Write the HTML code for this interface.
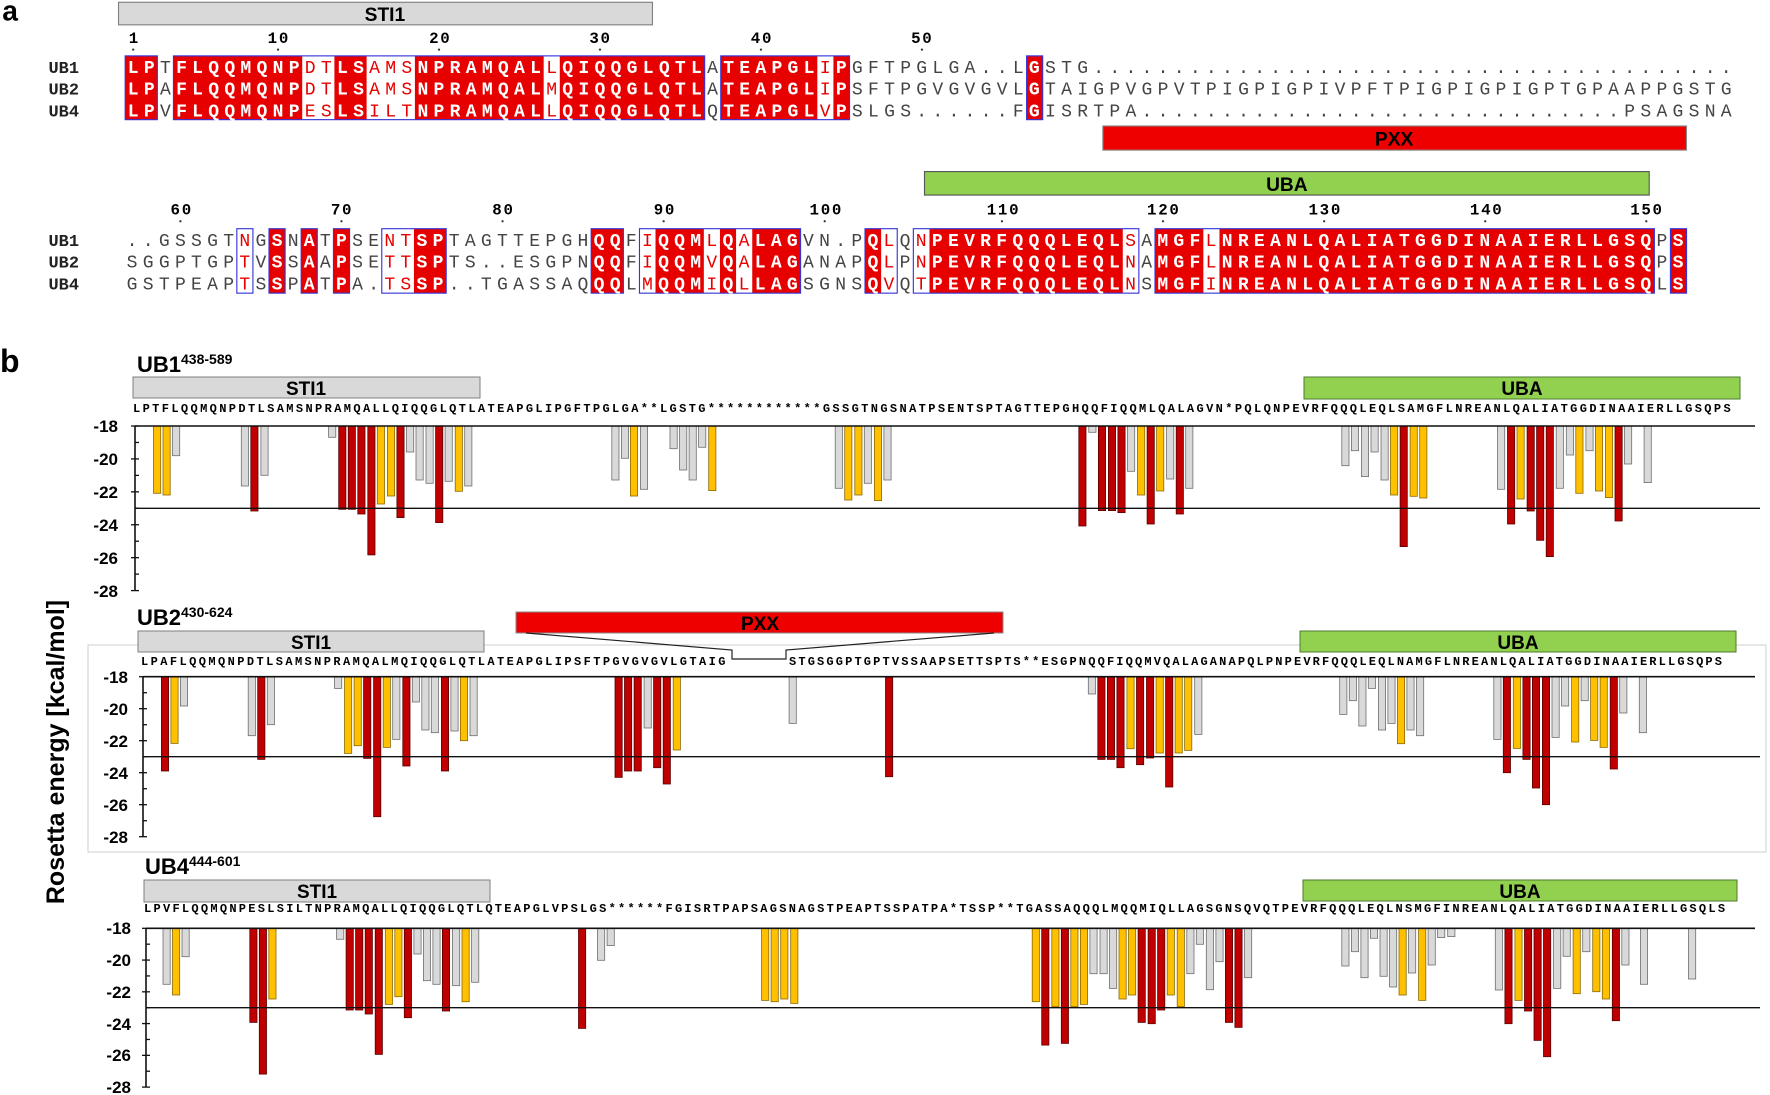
<!DOCTYPE html>
<html><head><meta charset="utf-8"><style>
html,body{margin:0;padding:0;background:#fff;}
svg{display:block;}
.m{font-family:"Liberation Mono",monospace;}
.s{font-family:"Liberation Sans",sans-serif;font-weight:bold;}
.w{fill:#fff;font-weight:bold;}
.r{fill:#e60000;}
.n{fill:#444;}
</style></head><body>
<svg id="sv" width="1770" height="1095" viewBox="0 0 1770 1095" xmlns="http://www.w3.org/2000/svg">
<g transform="scale(1.12883)">
<text x="2" y="18" class="s" font-size="25">a</text>
<rect x="105" y="2" width="473" height="20" fill="#d9d9d9" stroke="#7f7f7f"/>
<text x="341" y="18.5" class="s" font-size="17" text-anchor="middle">STI1</text>
<g class="m" font-size="14" font-weight="bold" text-anchor="middle" letter-spacing="1.5">
<text x="119" y="38">1</text><text x="247" y="38">10</text><text x="390" y="38">20</text><text x="532" y="38">30</text><text x="675" y="38">40</text><text x="817" y="38">50</text>
<text x="161" y="190">60</text><text x="303" y="190">70</text><text x="446" y="190">80</text><text x="589" y="190">90</text><text x="732" y="190">100</text><text x="889" y="190">110</text><text x="1031" y="190">120</text><text x="1174" y="190">130</text><text x="1317" y="190">140</text><text x="1459" y="190">150</text>
</g>
<g fill="#333"><circle cx="118" cy="44" r="1"/><circle cx="246.3" cy="44" r="1"/><circle cx="388.9" cy="44" r="1"/><circle cx="531.5" cy="44" r="1"/><circle cx="674.1" cy="44" r="1"/><circle cx="816.7" cy="44" r="1"/>
<circle cx="159.8" cy="196" r="1"/><circle cx="302.5" cy="196" r="1"/><circle cx="445.2" cy="196" r="1"/><circle cx="587.9" cy="196" r="1"/><circle cx="730.6" cy="196" r="1"/><circle cx="887.6" cy="196" r="1"/><circle cx="1030.3" cy="196" r="1"/><circle cx="1173" cy="196" r="1"/><circle cx="1315.7" cy="196" r="1"/><circle cx="1458.4" cy="196" r="1"/></g>
<g fill="#e60000">
<rect x="110.87" y="49.5" width="28.52" height="56.5"/><rect x="153.65" y="49.5" width="114.08" height="56.5"/><rect x="296.25" y="49.5" width="28.52" height="56.5"/><rect x="367.55" y="49.5" width="114.08" height="56.5"/><rect x="495.89" y="49.5" width="128.34" height="56.5"/><rect x="638.49" y="49.5" width="85.56" height="56.5"/><rect x="738.31" y="49.5" width="14.26" height="56.5"/><rect x="909.43" y="49.5" width="14.26" height="56.5"/>
<rect x="238.3" y="202.6" width="14.27" height="57.1"/><rect x="266.8" y="202.6" width="14.27" height="57.1"/><rect x="295.4" y="202.6" width="14.27" height="57.1"/><rect x="366.7" y="202.6" width="28.54" height="57.1"/><rect x="523.7" y="202.6" width="28.54" height="57.1"/><rect x="580.7" y="202.6" width="42.81" height="57.1"/><rect x="637.8" y="202.6" width="14.27" height="57.1"/><rect x="666.4" y="202.6" width="42.81" height="57.1"/><rect x="766.3" y="202.6" width="14.27" height="57.1"/><rect x="823.4" y="202.6" width="171.24" height="57.1"/><rect x="1023.2" y="202.6" width="42.81" height="57.1"/><rect x="1080.3" y="202.6" width="385.29" height="57.1"/><rect x="1479.8" y="202.6" width="14.27" height="57.1"/>
</g>
<g fill="none" stroke="#3535d8" stroke-width="1">
<rect x="110.87" y="49.5" width="28.52" height="56.5"/><rect x="153.65" y="49.5" width="470.58" height="56.5"/><rect x="638.49" y="49.5" width="114.08" height="56.5"/><rect x="909.43" y="49.5" width="14.26" height="56.5"/>
<rect x="209.8" y="202.6" width="14.27" height="57.1"/><rect x="238.3" y="202.6" width="14.27" height="57.1"/><rect x="266.8" y="202.6" width="14.27" height="57.1"/><rect x="295.4" y="202.6" width="14.27" height="57.1"/><rect x="338.2" y="202.6" width="57.08" height="57.1"/><rect x="523.7" y="202.6" width="28.54" height="57.1"/><rect x="566.5" y="202.6" width="142.7" height="57.1"/><rect x="766.3" y="202.6" width="28.54" height="57.1"/><rect x="809.1" y="202.6" width="199.78" height="57.1"/><rect x="1023.2" y="202.6" width="442.37" height="57.1"/><rect x="1479.8" y="202.6" width="14.27" height="57.1"/>
</g>
<g class="m" font-size="15" font-weight="bold" fill="#222">
<text x="43" y="64.5">UB1</text><text x="43" y="83.5">UB2</text><text x="43" y="103">UB4</text>
<text x="43" y="218">UB1</text><text x="43" y="237">UB2</text><text x="43" y="256.5">UB4</text>
</g>
<g class="m" font-size="16" letter-spacing="4.66">
<text x="113.2" y="64.5"><tspan class="w">LP</tspan><tspan class="n">T</tspan><tspan class="w">FLQQMQNP</tspan><tspan class="r">DT</tspan><tspan class="w">LS</tspan><tspan class="r">AMS</tspan><tspan class="w">NPRAMQAL</tspan><tspan class="r">L</tspan><tspan class="w">QIQQGLQTL</tspan><tspan class="n">A</tspan><tspan class="w">TEAPGL</tspan><tspan class="r">I</tspan><tspan class="w">P</tspan><tspan class="n">GFTPGLGA..L</tspan><tspan class="w">G</tspan><tspan class="n">STG........................................</tspan></text>
<text x="113.2" y="83.5"><tspan class="w">LP</tspan><tspan class="n">A</tspan><tspan class="w">FLQQMQNP</tspan><tspan class="r">DT</tspan><tspan class="w">LS</tspan><tspan class="r">AMS</tspan><tspan class="w">NPRAMQAL</tspan><tspan class="r">M</tspan><tspan class="w">QIQQGLQTL</tspan><tspan class="n">A</tspan><tspan class="w">TEAPGL</tspan><tspan class="r">I</tspan><tspan class="w">P</tspan><tspan class="n">SFTPGVGVGVL</tspan><tspan class="w">G</tspan><tspan class="n">TAIGPVGPVTPIGPIGPIVPFTPIGPIGPIGPTGPAAPPGSTG</tspan></text>
<text x="113.2" y="103"><tspan class="w">LP</tspan><tspan class="n">V</tspan><tspan class="w">FLQQMQNP</tspan><tspan class="r">ES</tspan><tspan class="w">LS</tspan><tspan class="r">ILT</tspan><tspan class="w">NPRAMQAL</tspan><tspan class="r">L</tspan><tspan class="w">QIQQGLQTL</tspan><tspan class="n">Q</tspan><tspan class="w">TEAPGL</tspan><tspan class="r">V</tspan><tspan class="w">P</tspan><tspan class="n">SLGS......F</tspan><tspan class="w">G</tspan><tspan class="n">ISRTPA..............................PSAGSNA</tspan></text>
</g>
<g class="m" font-size="16" letter-spacing="4.67">
<text x="112.2" y="218"><tspan class="n">..GSSGT</tspan><tspan class="r">N</tspan><tspan class="n">G</tspan><tspan class="w">S</tspan><tspan class="n">N</tspan><tspan class="w">A</tspan><tspan class="n">T</tspan><tspan class="w">P</tspan><tspan class="n">SE</tspan><tspan class="r">NT</tspan><tspan class="w">SP</tspan><tspan class="n">TAGTTEPGH</tspan><tspan class="w">QQ</tspan><tspan class="n">F</tspan><tspan class="r">I</tspan><tspan class="w">QQM</tspan><tspan class="r">L</tspan><tspan class="w">Q</tspan><tspan class="r">A</tspan><tspan class="w">LAG</tspan><tspan class="n">VN.P</tspan><tspan class="w">Q</tspan><tspan class="r">L</tspan><tspan class="n">Q</tspan><tspan class="r">N</tspan><tspan class="w">PEVRFQQQLEQL</tspan><tspan class="r">S</tspan><tspan class="n">A</tspan><tspan class="w">MGF</tspan><tspan class="r">L</tspan><tspan class="w">NREANLQALIATGGDINAAIERLLGSQ</tspan><tspan class="n">P</tspan><tspan class="w">S</tspan></text>
<text x="112.2" y="237"><tspan class="n">SGGPTGP</tspan><tspan class="r">T</tspan><tspan class="n">V</tspan><tspan class="w">S</tspan><tspan class="n">S</tspan><tspan class="w">A</tspan><tspan class="n">A</tspan><tspan class="w">P</tspan><tspan class="n">SE</tspan><tspan class="r">TT</tspan><tspan class="w">SP</tspan><tspan class="n">TS..ESGPN</tspan><tspan class="w">QQ</tspan><tspan class="n">F</tspan><tspan class="r">I</tspan><tspan class="w">QQM</tspan><tspan class="r">V</tspan><tspan class="w">Q</tspan><tspan class="r">A</tspan><tspan class="w">LAG</tspan><tspan class="n">ANAP</tspan><tspan class="w">Q</tspan><tspan class="r">L</tspan><tspan class="n">P</tspan><tspan class="r">N</tspan><tspan class="w">PEVRFQQQLEQL</tspan><tspan class="r">N</tspan><tspan class="n">A</tspan><tspan class="w">MGF</tspan><tspan class="r">L</tspan><tspan class="w">NREANLQALIATGGDINAAIERLLGSQ</tspan><tspan class="n">P</tspan><tspan class="w">S</tspan></text>
<text x="112.2" y="256.5"><tspan class="n">GSTPEAP</tspan><tspan class="r">T</tspan><tspan class="n">S</tspan><tspan class="w">S</tspan><tspan class="n">P</tspan><tspan class="w">A</tspan><tspan class="n">T</tspan><tspan class="w">P</tspan><tspan class="n">A.</tspan><tspan class="r">TS</tspan><tspan class="w">SP</tspan><tspan class="n">..TGASSAQ</tspan><tspan class="w">QQ</tspan><tspan class="n">L</tspan><tspan class="r">M</tspan><tspan class="w">QQM</tspan><tspan class="r">I</tspan><tspan class="w">Q</tspan><tspan class="r">L</tspan><tspan class="w">LAG</tspan><tspan class="n">SGNS</tspan><tspan class="w">Q</tspan><tspan class="r">V</tspan><tspan class="n">Q</tspan><tspan class="r">T</tspan><tspan class="w">PEVRFQQQLEQL</tspan><tspan class="r">N</tspan><tspan class="n">S</tspan><tspan class="w">MGF</tspan><tspan class="r">I</tspan><tspan class="w">NREANLQALIATGGDINAAIERLLGSQ</tspan><tspan class="n">L</tspan><tspan class="w">S</tspan></text>
</g>
<rect x="977" y="111.6" width="517" height="21.4" fill="#ee0000" stroke="#888"/>
<text x="1235" y="129" class="s" font-size="17" text-anchor="middle">PXX</text>
<rect x="819" y="152" width="642" height="20.8" fill="#92d050" stroke="#555"/>
<text x="1140" y="169" class="s" font-size="17" text-anchor="middle">UBA</text>
</g>

<!-- part b -->
<text x="0" y="372" class="s" font-size="32">b</text>
<text transform="translate(64,752) rotate(-90)" class="s" font-size="25" text-anchor="middle">Rosetta energy [kcal/mol]</text>
<rect x="88" y="645" width="1678" height="207" fill="none" stroke="#cfcfcf"/>

<text x="137" y="372" class="s" font-size="22">UB1<tspan font-size="14" dy="-8">438-589</tspan></text>
<rect x="133" y="377" width="347" height="21" fill="#d9d9d9" stroke="#7f7f7f"/>
<text x="306" y="395" class="s" font-size="19" text-anchor="middle">STI1</text>
<rect x="1304" y="377" width="436" height="22" fill="#92d050" stroke="#4d7a2e"/>
<text x="1522" y="395" class="s" font-size="19" text-anchor="middle">UBA</text>
<text x="133" y="412" class="m" font-size="12" font-weight="bold" letter-spacing="2.38">LPTFLQQMQNPDTLSAMSNPRAMQALLQIQQGLQTLATEAPGLIPGFTPGLGA**LGSTG************GSSGTNGSNATPSENTSPTAGTTEPGHQQFIQQMLQALAGVN*PQLQNPEVRFQQQLEQLSAMGFLNREANLQALIATGGDINAAIERLLGSQPS</text>

<text x="137" y="625" class="s" font-size="22">UB2<tspan font-size="14" dy="-8">430-624</tspan></text>
<rect x="138" y="631" width="346" height="21" fill="#d9d9d9" stroke="#7f7f7f"/>
<text x="311" y="649" class="s" font-size="19" text-anchor="middle">STI1</text>
<rect x="1300" y="631" width="436" height="21" fill="#92d050" stroke="#4d7a2e"/>
<text x="1518" y="649" class="s" font-size="19" text-anchor="middle">UBA</text>
<rect x="516" y="612" width="487" height="21" fill="#ee0000" stroke="#888"/>
<text x="760" y="630" class="s" font-size="19" text-anchor="middle">PXX</text>
<polyline points="526,633 732,650 732,659 786,659 786,650 994,633" fill="none" stroke="#222" stroke-width="1.2"/>
<text x="141" y="665" class="m" font-size="12" font-weight="bold" letter-spacing="2.42">LPAFLQQMQNPDTLSAMSNPRAMQALMQIQQGLQTLATEAPGLIPSFTPGVGVGVLGTAIG</text>
<text x="789" y="665" class="m" font-size="12" font-weight="bold" letter-spacing="2.15">STGSGGPTGPTVSSAAPSETTSPTS**ESGPNQQFIQQMVQALAGANAPQLPNPEVRFQQQLEQLNAMGFLNREANLQALIATGGDINAAIERLLGSQPS</text>

<text x="145" y="874" class="s" font-size="22">UB4<tspan font-size="14" dy="-8">444-601</tspan></text>
<rect x="144" y="880" width="346" height="22" fill="#d9d9d9" stroke="#7f7f7f"/>
<text x="317" y="898" class="s" font-size="19" text-anchor="middle">STI1</text>
<rect x="1303" y="880" width="434" height="21" fill="#92d050" stroke="#4d7a2e"/>
<text x="1520" y="898" class="s" font-size="19" text-anchor="middle">UBA</text>
<text x="144" y="912" class="m" font-size="12" font-weight="bold" letter-spacing="2.28">LPVFLQQMQNPESLSILTNPRAMQALLQIQQGLQTLQTEAPGLVPSLGS******FGISRTPAPSAGSNAGSTPEAPTSSPATPA*TSSP**TGASSAQQQLMQQMIQLLAGSGNSQVQTPEVRFQQQLEQLNSMGFINREANLQALIATGGDINAAIERLLGSQLS</text>

<g class="s" font-size="17" text-anchor="end">
<text x="118" y="432">-18</text><text x="118" y="465">-20</text><text x="118" y="498">-22</text><text x="118" y="531">-24</text><text x="118" y="564">-26</text><text x="118" y="597">-28</text>
<text x="128" y="683">-18</text><text x="128" y="715">-20</text><text x="128" y="747">-22</text><text x="128" y="779">-24</text><text x="128" y="811">-26</text><text x="128" y="843">-28</text>
<text x="131" y="934">-18</text><text x="131" y="966">-20</text><text x="131" y="998">-22</text><text x="131" y="1030">-24</text><text x="131" y="1061">-26</text><text x="131" y="1093">-28</text>
</g>
<g id="bars"></g>
</svg>
<script>
var P=[
{ax:135,y18:426,y23:508.3,L18:78,L23:325,
 a:"70y280 88y285 106g167 236g258 254r333 273g226 401g112 420r328 438r328 456r342 475r465 493y312 512y288 530r353 548g156 566g240 585g250 603r368 621g244 640y274 658g258 936g240 954g175 971y288 990g268 1046g146 1064g210 1082g240 1100g142 1119y272 1358g265 1376y300 1395y285 1413g250 1432y302 1450g240",
 b:"269r378 288g97 306r332 325r332 343r338 361g214 380y285 398r372 416y273 435g237 453r342 471g265 766g197 784g152 803g230 821g156 840g240 858y285 876r440 895y289 913y294 1060g268 1079r372 1097y297 1116r333 1134r421 1152r470 1171g265 1190g165 1208y280 1227g152 1245y273 1264y293 1282r363 1300g192 1337g248"},
{ax:143,y18:676.7,y23:756.7,L18:80,L23:320,
 a:"85r363 103y280 121g168 249g257 267r328 285g224 412g115 431y310 449y287 467r325 486r500 504y292 522g268 541r348 559g156 577g240 595g248 614r363 632g243 650y272 668g257 942r382 960r363 978r363 997g234 1015r353 1033r402 1052y300 1271g220 1453r380",
 b:"287g132 305r328 323r328 341r353 360y296 378r344 397r324 415y309 433r411 451y309 469y301 488g253 762g193 780g152 798g228 816g115 835g240 853g220 871y281 889g240 907g257 1053g268 1071r368 1090y295 1108r328 1126r414 1145r464 1163g262 1181g168 1200y276 1218g152 1236y271 1254y292 1273r357 1291g189 1328g248"},
{ax:146,y18:928.3,y23:1007.7,L18:100,L23:338,
 a:"88g268 106y300 124g185 252r382 270r537 288y312 416g133 434r345 452r345 470r357 489r478 508y328 526y305 544r368 562g177 580g257 598g268 616r348 635g272 653y320 671g262 873r400 909g196 927g152 1219y316 1237y320 1255y312 1274y325",
 b:"181y320 199r450 218y335 236r445 254y335 272y328 290g236 309g236 327g280 345y312 363y300 381r382 400r386 418r345 436y300 455y335 473g236 491g148 510g284 528g200 546r382 564r397 582g248 766g213 784g170 802g248 820g130 838g244 856g276 874y300 892g234 911y316 929g210 947g128 966g125 1056g285 1074r386 1093y316 1111r348 1129r436 1147r485 1166g280 1184g184 1203y296 1221g170 1240y290 1258y312 1277r377 1295g210 1330g268 1421g252"}];
var C={r:["#c00000","#5a0000"],y:["#ffc000","#8a6a00"],g:["#d9d9d9","#6e6e6e"]};
var G=document.getElementById("bars"),h="";
P.forEach(function(p){
 var u=(p.y23-p.y18)/5;
 [["a",120],["b",940]].forEach(function(q){
  p[q[0]].split(" ").forEach(function(t){
   var m=t.match(/(\d+)([ryg])(\d+)/);var zx=+m[1],c=m[2],zb=+m[3];
   var x=q[1]+zx*0.5293-3.6,yb=p.y18+(zb-p.L18)/(p.L23-p.L18)*(p.y23-p.y18);
   h+='<rect x="'+x.toFixed(1)+'" y="'+p.y18+'" width="7.2" height="'+Math.max(1,yb-p.y18).toFixed(1)+'" fill="'+C[c][0]+'" stroke="'+C[c][1]+'" stroke-width="0.8"/>';
  });
 });
 h+='<line x1="'+p.ax+'" y1="'+p.y18+'" x2="1755" y2="'+p.y18+'" stroke="#111" stroke-width="1.6"/>';
 h+='<line x1="'+p.ax+'" y1="'+(p.y18+5*u)+'" x2="1760" y2="'+(p.y18+5*u)+'" stroke="#111" stroke-width="1.3"/>';
 h+='<line x1="'+p.ax+'" y1="'+p.y18+'" x2="'+p.ax+'" y2="'+(p.y18+10*u)+'" stroke="#111" stroke-width="1.6"/>';
 for(var k=0;k<=10;k++){var yy=p.y18+k*u;h+='<line x1="'+(p.ax-(k%2?0:4))+'" y1="'+yy+'" x2="'+(p.ax+4)+'" y2="'+yy+'" stroke="#111" stroke-width="1.3"/>';}
});
G.innerHTML=h;
</script>
</body></html>
